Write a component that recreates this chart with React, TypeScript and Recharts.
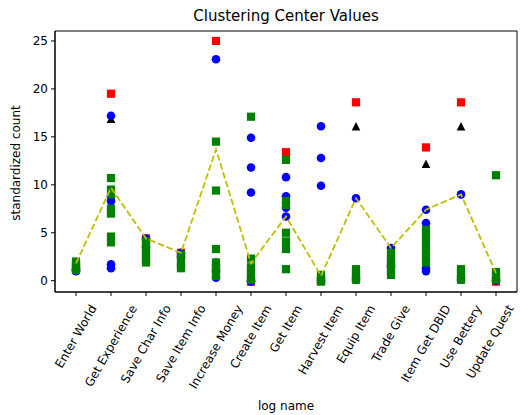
import * as React from "react";
import {
  ScatterChart,
  Scatter,
  XAxis,
  YAxis,
  Label,
  ReferenceArea,
} from "recharts";

const logNames = [
  "Enter World",
  "Get Experience",
  "Save Char Info",
  "Save Item Info",
  "Increase Money",
  "Create Item",
  "Get Item",
  "Harvest Item",
  "Equip Item",
  "Trade Give",
  "Item Get DBID",
  "Use Bettery",
  "Update Quest",
];

const yTicks = [0, 5, 10, 15, 20, 25];

// one value per log name
const redValues = [1.2, 19.5, 4.4, 2.9, 25.0, -0.1, 13.4, 0.0, 18.6, 1.6, 13.9, 18.6, -0.1];
const blackValues = [1.5, 16.9, 3.0, 2.0, 2.0, 0.3, 3.5, 0.2, 16.1, 1.2, 12.2, 16.1, 0.3];
const meanValues = [1.8, 9.7, 4.4, 2.9, 13.7, 1.8, 6.7, 0.5, 8.6, 3.4, 7.4, 9.0, 0.8];

// several values per log name
const blueValues = [
  [1.0, 1.2],
  [17.2, 8.8, 8.3, 1.7, 1.3],
  [4.4, 3.5],
  [2.9, 2.5],
  [23.1, 0.3, 1.0],
  [14.9, 11.8, 9.2, 0.0, -0.1],
  [10.8, 8.8, 7.6, 6.7],
  [16.1, 12.8, 9.9, 0.0],
  [8.6, 0.1],
  [3.4, 1.5],
  [7.4, 6.0, 1.3, 1.0],
  [9.0, 0.1],
  [0.0],
];

const greenValues = [
  [2.0, 1.7, 1.4, 1.1],
  [10.7, 9.5, 9.0, 7.5, 7.0, 4.6, 4.0],
  [4.1, 3.7, 3.3, 2.9, 2.5, 2.1, 1.9],
  [2.7, 2.3, 1.9, 1.5, 1.3],
  [14.5, 9.4, 3.3, 1.9, 1.5, 1.2, 0.8, 0.5],
  [17.1, 2.3, 1.4, 1.0, 0.5, 0.1],
  [12.6, 8.3, 7.9, 5.0, 4.1, 3.3, 1.2],
  [0.6, 0.3, 0.0, -0.1],
  [1.2, 0.8, 0.4, 0.1],
  [2.9, 2.3, 1.9, 1.3, 0.6],
  [5.3, 4.8, 4.2, 3.6, 3.0, 2.4, 1.9],
  [1.2, 0.8, 0.3, 0.1],
  [11.0, 0.9, 0.5, 0.1],
];

const toPoints = (vals: number[]) => vals.map((v, i) => ({ x: i, y: v }));
const toManyPoints = (groups: number[][]) =>
  groups.flatMap((vals, i) => vals.map((v) => ({ x: i, y: v })));

const X_DOMAIN: [number, number] = [-0.6, 12.6];
const Y_DOMAIN: [number, number] = [-1.18, 26.04];
const FONT = "DejaVu Sans";

let ctx: CanvasRenderingContext2D | null = null;
const textWidth = (s: string, size: number) => {
  if (!ctx) ctx = document.createElement("canvas").getContext("2d");
  if (!ctx) return s.length * size * 0.6;
  ctx.font = `${size}px "${FONT}"`;
  return ctx.measureText(s).width;
};

const RotatedTick = (props: any) => {
  const { x, y, payload } = props;
  const label = logNames[payload.value] ?? "";
  const size = 12;
  const w = textWidth(label, size);
  const h = size;
  const a = (60 * Math.PI) / 180;
  const H = w * Math.sin(a) + h * Math.cos(a);
  const cy = y + 4 + H / 2;
  // keep the last label inside the picture
  const right = x + (w / 2) * Math.cos(a) + ((size * 1.2) / 2) * Math.sin(a);
  const cx = right > 517 ? x - (right - 517) : x;
  return (
    <text
      x={cx}
      y={cy}
      textAnchor="middle"
      dominantBaseline="central"
      fontSize={size}
      fill="#000"
      transform={`rotate(-60 ${cx} ${cy})`}
    >
      {label}
    </text>
  );
};

const Circle = (props: any) => (
  <circle cx={props.cx} cy={props.cy} r={4.3} fill="#0000ff" />
);
const Square = (color: string) => (props: any) => (
  <rect x={props.cx - 4.1} y={props.cy - 4.1} width={8.2} height={8.2} fill={color} />
);
const Triangle = (props: any) => {
  const { cx, cy } = props;
  return (
    <path
      d={`M${cx},${cy - 4.3} L${cx - 4.3},${cy + 4.3} L${cx + 4.3},${cy + 4.3} Z`}
      fill="#000"
    />
  );
};

export default function App() {
  return (
    <div
      style={{
        position: "absolute",
        left: 0,
        top: 0,
        width: 520,
        height: 415,
        background: "#fff",
        fontFamily: FONT,
      }}
    >
      <ScatterChart
        width={520}
        height={415}
        margin={{ top: 31, right: 3, bottom: 0, left: 0 }}
      >
        <XAxis
          type="number"
          dataKey="x"
          domain={X_DOMAIN}
          allowDataOverflow
          ticks={logNames.map((_, i) => i)}
          interval={0}
          height={123}
          tickSize={4}
          tickMargin={3}
          tick={<RotatedTick />}
          axisLine={{ stroke: "#000" }}
          tickLine={{ stroke: "#000" }}
        >
          <Label
            content={() => (
              <text
                x={286}
                y={406}
                textAnchor="middle"
                dominantBaseline="central"
                fontSize={12}
                fill="#000"
              >
                log name
              </text>
            )}
          />
          <Label
            content={() => (
              <text
                x={286}
                y={16}
                textAnchor="middle"
                dominantBaseline="central"
                fontSize={15}
                fill="#000"
              >
                Clustering Center Values
              </text>
            )}
          />
        </XAxis>
        <YAxis
          type="number"
          dataKey="y"
          domain={Y_DOMAIN}
          allowDataOverflow
          ticks={yTicks}
          width={55}
          tickSize={4}
          tickMargin={3}
          tick={{ fill: "#000", fontSize: 12 }}
          axisLine={{ stroke: "#000" }}
          tickLine={{ stroke: "#000" }}
        >
          <Label
            content={() => (
              <text
                x={16}
                y={163}
                textAnchor="middle"
                dominantBaseline="central"
                fontSize={12}
                fill="#000"
                transform="rotate(-90 16 163)"
              >
                standardized count
              </text>
            )}
          />
        </YAxis>
        <Scatter
          data={toPoints(redValues)}
          shape={Square("#ff0000")}
          isAnimationActive={false}
        />
        <Scatter
          data={toPoints(blackValues)}
          shape={Triangle}
          isAnimationActive={false}
        />
        <Scatter
          data={toManyPoints(blueValues)}
          shape={Circle}
          isAnimationActive={false}
        />
        <Scatter
          data={toManyPoints(greenValues)}
          shape={Square("#008000")}
          isAnimationActive={false}
        />
        <Scatter
          data={toPoints(meanValues)}
          line={{ stroke: "#bfbf00", strokeWidth: 1.8, strokeDasharray: "6.5 2.8" }}
          shape={() => <g />}
          isAnimationActive={false}
        />
        <ReferenceArea
          x1={X_DOMAIN[0]}
          x2={X_DOMAIN[1]}
          y1={Y_DOMAIN[0]}
          y2={Y_DOMAIN[1]}
          fill="none"
          stroke="#000"
          strokeWidth={1}
          ifOverflow="visible"
        />
      </ScatterChart>
    </div>
  );
}
